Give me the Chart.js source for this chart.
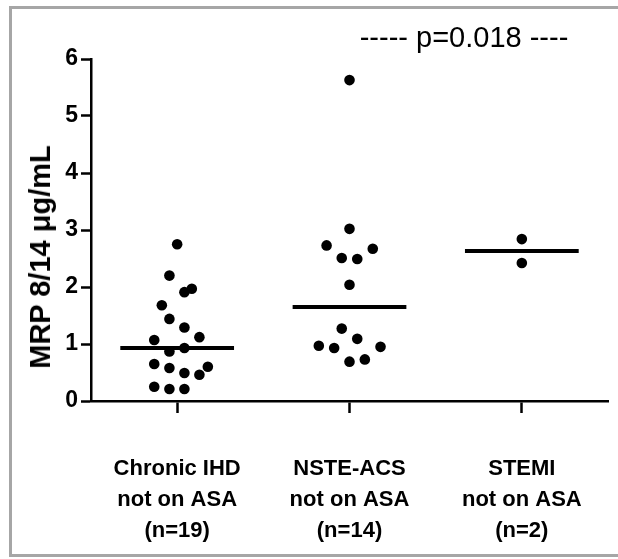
<!DOCTYPE html>
<html>
<head>
<meta charset="utf-8">
<script src="https://cdn.jsdelivr.net/npm/chart.js@4.4.0/dist/chart.umd.min.js"></script>
<style>
  html, body { margin: 0; padding: 0; background: #fff; overflow: hidden; }
  #wrap { position: relative; width: 618px; height: 559px; overflow: hidden; }
  #frame {
    position: absolute; left: 9px; top: 6px; width: 700px; height: 545px;
    border: 3px solid #a6a6a6; border-right: none;
  }
  #myChart { position: absolute; left: 0; top: 0; }
  #pval {
    position: absolute; left: 464px; top: 20px; transform: translateX(-50%);
    font: 29px "Liberation Sans", Arial, sans-serif; line-height: 34px;
    white-space: pre; color: #000;
  }
  #ytitle {
    position: absolute; left: 40px; top: 257px;
    transform: translate(-50%, -50%) rotate(-90deg);
    font: bold 29px "Liberation Sans", Arial, sans-serif; line-height: 34px;
    white-space: nowrap; color: #000;
  }
</style>
</head>
<body>
<div id="wrap">
  <div id="frame"></div>
  <canvas id="myChart" width="618" height="559"></canvas>
  <div id="pval">----- p=0.018 ----</div>
  <div id="ytitle">MRP 8/14 μg/mL</div>
</div>
<script>
  // groups, values
  const groupLabels = [
    ["Chronic IHD", "not on ASA", "(n=19)"],
    ["NSTE-ACS", "not on ASA", "(n=14)"],
    ["STEMI", "not on ASA", "(n=2)"],
  ];

  const chronicValues = [2.75, 2.20, 1.91, 1.97, 1.68, 1.44, 1.29, 1.07, 1.12, 0.87,
    0.93, 0.65, 0.58, 0.49, 0.46, 0.60, 0.25, 0.21, 0.21];
  const chronicSpread = [0, -0.045, 0.042, 0.085, -0.089, -0.045, 0.042, -0.133, 0.129, -0.045,
    0.042, -0.133, -0.045, 0.042, 0.129, 0.178, -0.133, -0.045, 0.042];

  const nsteValues = [5.63, 3.02, 2.73, 2.67, 2.51, 2.49, 2.04, 1.27, 1.09, 0.97,
    0.93, 0.95, 0.69, 0.73];
  const nsteSpread = [0, 0, -0.133, 0.135, -0.045, 0.045, 0, -0.045, 0.045, -0.178,
    -0.089, 0.18, 0, 0.089];

  const stemiValues = [2.84, 2.42];
  const stemiSpread = [0, 0];

  const medians = [0.93, 1.65, 2.63];

  const yTicks = [0, 1, 2, 3, 4, 5, 6];

  const groups = [
    { values: chronicValues, spread: chronicSpread },
    { values: nsteValues, spread: nsteSpread },
    { values: stemiValues, spread: stemiSpread },
  ];

  const FONT = '"Liberation Sans", Arial, sans-serif';
  const lineHalf = 0.33;

  const datasets = [];
  groups.forEach((g, i) => {
    datasets.push({
      type: "scatter",
      data: g.values.map((v, k) => ({ x: i + 1 + g.spread[k], y: v })),
      pointRadius: 5.3,
      pointBackgroundColor: "#000",
      pointBorderWidth: 0,
      showLine: false,
    });
    datasets.push({
      type: "line",
      data: [
        { x: i + 1 - lineHalf, y: medians[i] },
        { x: i + 1 + lineHalf, y: medians[i] },
      ],
      borderColor: "#000",
      borderWidth: 4,
      pointRadius: 0,
      fill: false,
    });
  });

  new Chart(document.getElementById("myChart"), {
    type: "scatter",
    data: { datasets: datasets },
    options: {
      responsive: false,
      animation: false,
      devicePixelRatio: 1,
      layout: { padding: { left: 0, right: 10, top: 59, bottom: 0 } },
      plugins: {
        legend: { display: false },
        tooltip: { enabled: false },
        title: { display: false },
      },
      scales: {
        x: {
          type: "linear",
          min: 0.5,
          max: 3.5,
          afterBuildTicks: (scale) => {
            scale.ticks = [1, 2, 3].map((v) => ({ value: v }));
          },
          afterFit: (scale) => {
            scale.height = 158;
            scale.paddingLeft = 0;
            scale.paddingRight = 0;
          },
          ticks: {
            autoSkip: false,
            maxRotation: 0,
            padding: 40,
            color: "#000",
            font: { family: FONT, size: 22, weight: "bold", lineHeight: 1.42 },
            callback: (value) => groupLabels[Math.round(value) - 1],
          },
          grid: {
            drawOnChartArea: false,
            drawTicks: true,
            tickLength: 12,
            tickWidth: 2.5,
            tickColor: "#000",
          },
          border: { color: "#000", width: 2.5 },
        },
        y: {
          min: 0,
          max: 6,
          afterBuildTicks: (scale) => {
            scale.ticks = yTicks.map((v) => ({ value: v }));
          },
          afterFit: (scale) => {
            scale.width = 91;
          },
          ticks: {
            padding: 3,
            color: "#000",
            font: { family: FONT, size: 23, weight: "bold" },
          },
          grid: {
            drawOnChartArea: false,
            drawTicks: true,
            tickLength: 10,
            tickWidth: 2.5,
            tickColor: "#000",
          },
          border: { color: "#000", width: 2.5 },
        },
      },
    },
  });
</script>
</body>
</html>
